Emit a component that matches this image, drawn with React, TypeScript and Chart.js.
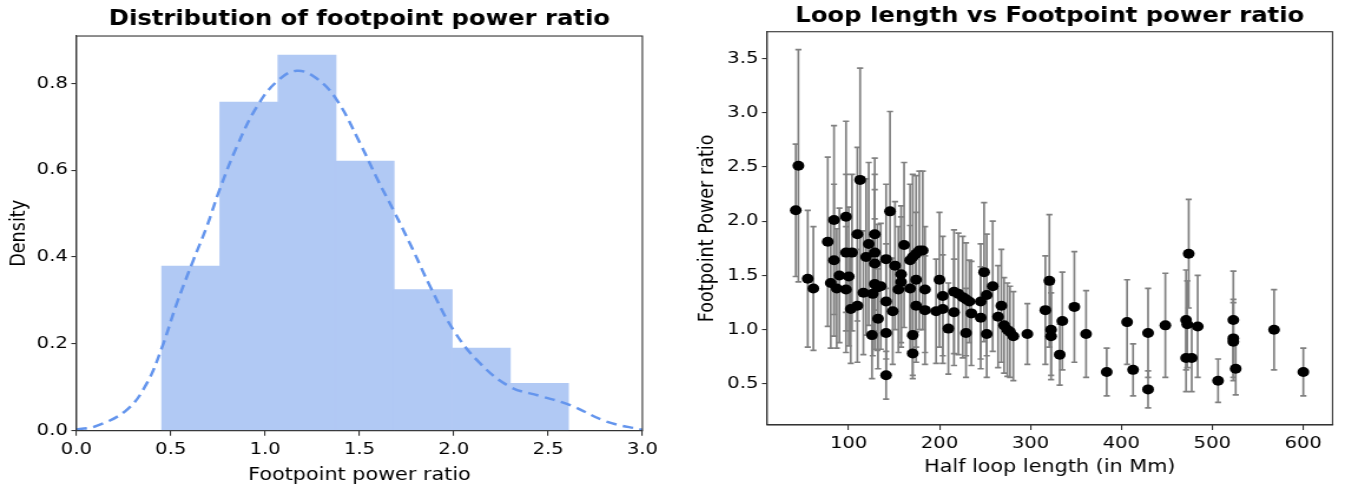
import React, { useEffect, useRef } from "react";
import { Chart, registerables } from "chart.js";

Chart.register(...registerables);

// ---------- Left chart: histogram + KDE ----------
const BIN_CENTERS = [0.606, 0.914, 1.222, 1.530, 1.838, 2.146, 2.454];
const BIN_DENSITY = [0.379, 0.757, 0.865, 0.621, 0.325, 0.190, 0.109];
const KDE_X = [0.0, 0.107, 0.267, 0.373, 0.452, 0.532, 0.62, 0.691, 0.758, 0.85, 0.956, 1.062, 1.168, 1.274, 1.38, 1.50, 1.60, 1.68, 1.78, 1.875, 1.998, 2.14, 2.299, 2.458, 2.617, 2.81, 3.0];
const KDE_Y = [0.003, 0.011, 0.048, 0.109, 0.19, 0.293, 0.393, 0.47, 0.554, 0.654, 0.746, 0.804, 0.829, 0.811, 0.762, 0.665, 0.575, 0.508, 0.42, 0.332, 0.232, 0.155, 0.101, 0.08, 0.059, 0.021, 0.002];
const HIST_X_TICKS = [0, 0.5, 1.0, 1.5, 2.0, 2.5, 3.0];
const HIST_Y_TICKS = [0, 0.2, 0.4, 0.6, 0.8];

// ---------- Right chart: scatter with error bars ----------
const LOOP_LENGTH = [
  41.8, 44.7, 55.0, 61.2, 77.0, 80.3, 83.9, 83.9, 86.9, 89.8,
  97.1, 97.1, 97.1, 100.1, 103.7, 102.3, 109.6, 109.6, 112.6, 116.2,
  119.2, 122.1, 125.7, 126.5, 128.7, 128.7, 128.7, 128.7, 131.6, 132.3,
  135.3, 141.2, 141.2, 141.2, 141.2, 145.5, 148.5, 151.0, 154.7, 157.7,
  157.7, 161.0, 167.6, 170.5, 174.2, 177.8, 181.5, 167.6, 174.2, 174.2,
  170.5, 170.5, 184.0, 184.0, 196.2, 199.9, 203.5, 203.5, 209.7, 215.9,
  215.9, 220.7, 225.5, 229.1, 232.8, 229.1, 235.0, 245.3, 245.3, 249.0,
  251.9, 251.9, 258.5, 264.4, 268.0, 271.0, 274.6, 277.5, 281.2, 296.6,
  316.4, 320.8, 322.7, 322.7, 332.2, 335.1, 348.3, 361.2, 383.9, 406.3,
  412.9, 429.4, 429.4, 448.4, 471.2, 472.5, 474.1, 471.2, 477.4, 484.0,
  506.4, 523.2, 523.2, 523.2, 525.8, 568.0, 600.2,
];
const POWER_RATIO = [
  2.10, 2.51, 1.47, 1.38, 1.81, 1.43, 2.01, 1.64, 1.38, 1.50,
  2.04, 1.71, 1.37, 1.49, 1.71, 1.19, 1.22, 1.88, 2.38, 1.34,
  1.67, 1.79, 0.95, 1.33, 1.88, 1.71, 1.61, 1.42, 1.39, 1.10,
  1.40, 0.58, 1.26, 0.97, 1.65, 2.09, 1.17, 1.59, 1.37, 1.51,
  1.44, 1.78, 1.64, 1.67, 1.70, 1.73, 1.73, 1.38, 1.46, 1.22,
  0.95, 0.78, 1.37, 1.18, 1.17, 1.46, 1.31, 1.19, 1.01, 1.35,
  1.16, 1.33, 1.30, 1.28, 1.26, 0.97, 1.15, 1.26, 1.11, 1.53,
  1.32, 0.96, 1.40, 1.12, 1.22, 1.04, 1.00, 0.98, 0.94, 0.96,
  1.18, 1.45, 1.00, 0.94, 0.77, 1.08, 1.21, 0.96, 0.61, 1.07,
  0.63, 0.97, 0.45, 1.04, 1.09, 1.05, 1.70, 0.74, 0.74, 1.03,
  0.53, 1.09, 0.92, 0.89, 0.64, 1.00, 0.61,
];
const POWER_ERR = [
  0.61, 1.07, 0.63, 0.57, 0.78, 0.60, 0.87, 0.70, 0.55, 0.62,
  0.88, 0.72, 0.58, 0.64, 0.72, 0.50, 0.52, 0.80, 1.03, 0.57,
  0.72, 0.75, 0.40, 0.57, 0.70, 0.72, 0.68, 0.60, 0.58, 0.46,
  0.58, 0.22, 0.53, 0.41, 0.69, 0.92, 0.49, 0.59, 0.58, 0.63,
  0.60, 0.76, 0.70, 0.76, 0.72, 0.73, 0.73, 0.58, 0.62, 0.52,
  0.40, 0.20, 0.58, 0.50, 0.48, 0.62, 0.55, 0.50, 0.42, 0.57,
  0.49, 0.56, 0.56, 0.52, 0.38, 0.41, 0.48, 0.53, 0.47, 0.64,
  0.56, 0.40, 0.60, 0.47, 0.52, 0.44, 0.43, 0.42, 0.41, 0.28,
  0.50, 0.61, 0.42, 0.40, 0.28, 0.45, 0.51, 0.40, 0.22, 0.39,
  0.24, 0.41, 0.17, 0.48, 0.46, 0.40, 0.50, 0.31, 0.31, 0.47,
  0.20, 0.45, 0.36, 0.36, 0.24, 0.37, 0.22,
];
const LOOP_X_TICKS = [100, 200, 300, 400, 500, 600];
const LOOP_Y_TICKS = [0.5, 1.0, 1.5, 2.0, 2.5, 3.0, 3.5];

const FONT = "'DejaVu Sans', sans-serif";
const AXIS_COLOR = "#333333";
const TICK_SIZE = 16.6;
const LABEL_SIZE = 17.6;
const TITLE_SIZE = 20.6;

const framePlugin = {
  id: "frame",
  afterDraw(chart: any) {
    const { ctx, chartArea } = chart;
    ctx.save();
    ctx.strokeStyle = AXIS_COLOR;
    ctx.lineWidth = 1.1;
    ctx.strokeRect(chartArea.left, chartArea.top, chartArea.right - chartArea.left, chartArea.bottom - chartArea.top);
    ctx.restore();
  },
};

const errorBarPlugin = {
  id: "errorBars",
  beforeDatasetsDraw(chart: any) {
    const { ctx } = chart;
    const xs = chart.scales.x;
    const ys = chart.scales.y;
    ctx.save();
    ctx.strokeStyle = "rgb(128,128,128)";
    ctx.lineWidth = 1.7;
    for (let i = 0; i < LOOP_LENGTH.length; i++) {
      const px = xs.getPixelForValue(LOOP_LENGTH[i]);
      const top = ys.getPixelForValue(POWER_RATIO[i] + POWER_ERR[i]);
      const bot = ys.getPixelForValue(POWER_RATIO[i] - POWER_ERR[i]);
      ctx.beginPath();
      ctx.moveTo(px, top);
      ctx.lineTo(px, bot);
      ctx.moveTo(px - 2.6, top);
      ctx.lineTo(px + 2.6, top);
      ctx.moveTo(px - 2.6, bot);
      ctx.lineTo(px + 2.6, bot);
      ctx.stroke();
    }
    ctx.restore();
  },
};

function axisCommon(ticksArr: number[], decimals: number, fitSize: number, isX: boolean, titleText: string, titlePad: any) {
  return {
    type: "linear" as const,
    offset: false,
    afterBuildTicks: (s: any) => {
      s.ticks = ticksArr.map((v) => ({ value: v }));
    },
    afterFit: (s: any) => {
      if (isX) s.height = fitSize;
      else s.width = fitSize;
    },
    ticks: {
      color: "#000",
      font: { family: FONT, size: TICK_SIZE },
      padding: isX ? 4 : 3,
      maxRotation: 0,
      autoSkip: false,
      callback: (v: any) => Number(v).toFixed(decimals),
    },
    grid: {
      display: true,
      offset: false,
      drawOnChartArea: false,
      drawTicks: true,
      tickLength: isX ? 5 : 4.3,
      color: AXIS_COLOR,
      lineWidth: 1.1,
    },
    border: { display: true, color: AXIS_COLOR, width: 1.1 },
    title: {
      display: true,
      text: titleText,
      color: "#000",
      font: { family: FONT, size: LABEL_SIZE },
      padding: titlePad,
    },
  };
}

// The reference figure is stretched horizontally: canvases are drawn narrower and widened by CSS.
const LEFT_W = 570;
const LEFT_CSS_W = 672;
const RIGHT_W = 564;
const RIGHT_CSS_W = 665;

function HistChart() {
  const ref = useRef<HTMLCanvasElement>(null);
  useEffect(() => {
    const chart = new Chart(ref.current!, {
      data: {
        datasets: [
          {
            type: "bar",
            data: BIN_CENTERS.map((x, i) => ({ x, y: BIN_DENSITY[i] })),
            backgroundColor: "rgb(177,201,244)",
            borderWidth: 0,
            barPercentage: 1,
            categoryPercentage: 1,
            order: 2,
          } as any,
          {
            type: "line",
            data: KDE_X.map((x, i) => ({ x, y: KDE_Y[i] })),
            borderColor: "rgb(100,149,237)",
            borderWidth: 2.5,
            borderDash: [9, 5.5],
            pointRadius: 0,
            tension: 0.4,
            fill: false,
            order: 1,
          } as any,
        ],
      },
      options: {
        animation: false,
        responsive: false,
        maintainAspectRatio: false,
        layout: { padding: { left: 0, right: 25.1, top: 0, bottom: 0 } },
        plugins: {
          legend: { display: false },
          tooltip: { enabled: false },
          title: {
            display: true,
            fullSize: false,
            text: "Distribution of footpoint power ratio",
            color: "#000",
            font: { family: FONT, size: TITLE_SIZE, weight: "bold" },
            padding: { top: 7, bottom: 4.3 },
          },
        },
        scales: {
          x: { ...axisCommon(HIST_X_TICKS, 1, 58.3, true, "Footpoint power ratio", { top: 0, bottom: 3.5 }), min: 0, max: 3 },
          y: { ...axisCommon(HIST_Y_TICKS, 1, 64.8, false, "Density", { top: 6, bottom: 0 }), min: 0, max: 0.909 },
        },
      } as any,
      plugins: [framePlugin],
    });
    return () => chart.destroy();
  }, []);
  return <canvas ref={ref} width={LEFT_W} height={489} style={{ position: "absolute", left: 0, top: 0, width: LEFT_CSS_W, height: 489 }} />;
}

function LoopChart() {
  const ref = useRef<HTMLCanvasElement>(null);
  useEffect(() => {
    const chart = new Chart(ref.current!, {
      type: "scatter",
      data: {
        datasets: [
          {
            data: LOOP_LENGTH.map((x, i) => ({ x, y: POWER_RATIO[i] })),
            backgroundColor: "#000",
            borderWidth: 0,
            pointRadius: 5,
          },
        ],
      },
      options: {
        animation: false,
        responsive: false,
        maintainAspectRatio: false,
        layout: { padding: { left: 0, right: 10.6, top: 0, bottom: 0 } },
        plugins: {
          legend: { display: false },
          tooltip: { enabled: false },
          title: {
            display: true,
            fullSize: false,
            text: "Loop length vs Footpoint power ratio",
            color: "#000",
            font: { family: FONT, size: TITLE_SIZE, weight: "bold" },
            padding: { top: 4, bottom: 3 },
          },
        },
        scales: {
          x: { ...axisCommon(LOOP_X_TICKS, 0, 64, true, "Half loop length (in Mm)", { top: 0, bottom: 11 }), min: 10.2, max: 632.3 },
          y: { ...axisCommon(LOOP_Y_TICKS, 1, 73.8, false, "Footpoint Power ratio", { top: 13, bottom: 0 }), min: 0.122, max: 3.745 },
        },
      } as any,
      plugins: [framePlugin, errorBarPlugin],
    });
    return () => chart.destroy();
  }, []);
  return <canvas ref={ref} width={RIGHT_W} height={489} style={{ position: "absolute", left: 680, top: 0, width: RIGHT_CSS_W, height: 489 }} />;
}

export default function App() {
  return (
    <div style={{ position: "absolute", left: 0, top: 0, width: 1345, height: 489, background: "#fff" }}>
      <HistChart />
      <LoopChart />
    </div>
  );
}
